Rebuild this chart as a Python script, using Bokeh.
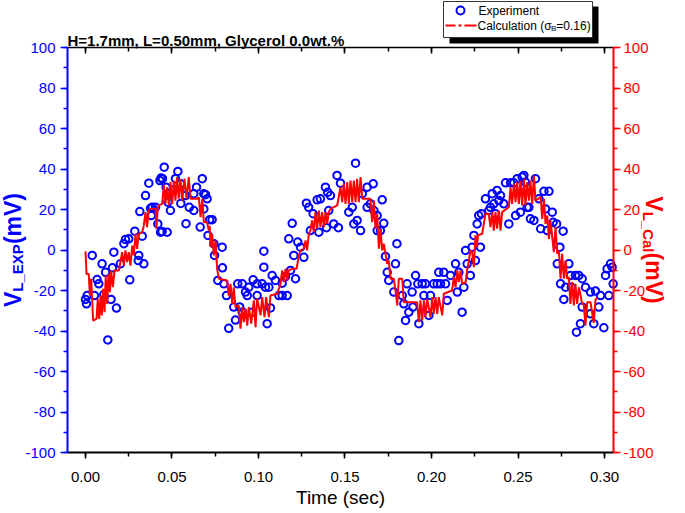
import math
from bokeh.plotting import figure
from bokeh.models import (Range1d, LinearAxis, SingleIntervalTicker, NumeralTickFormatter,
                          CustomJSTickFormatter, Label, BoxAnnotation, ColumnDataSource)
from bokeh.embed import file_html
from bokeh.resources import INLINE

FONT = "Liberation Sans"
BLUE = "#0000FF"
RED = "#FF0000"

title_text = "H=1.7mm, L=0.50mm, Glycerol 0.0wt.%"
x_label = "Time (sec)"
legend_exp = "Experiment"
legend_cal = ["Calculation (\u03c3", "B", "=0.16)"]
y_left_label = ["V", "L_EXP", "(mV)"]
y_right_label = ["V", "L_Cal", "(mV)"]

# Experiment (open circles)
exp_t = [0.0000, 0.0006, 0.0010, 0.0039, 0.0052, 0.0067, 0.0077, 0.0096, 0.0106, 0.0116,
         0.0129, 0.0148, 0.0156, 0.0164, 0.0179, 0.0202, 0.0222, 0.0231, 0.0250, 0.0256,
         0.0285, 0.0305, 0.0308, 0.0314, 0.0328, 0.0337, 0.0347, 0.0366, 0.0376, 0.0380,
         0.0386, 0.0405, 0.0418, 0.0430, 0.0434, 0.0437, 0.0443, 0.0445, 0.0455, 0.0466,
         0.0472, 0.0476, 0.0482, 0.0491, 0.0511, 0.0520, 0.0534, 0.0549, 0.0551, 0.0578,
         0.0581, 0.0600, 0.0626, 0.0626, 0.0642, 0.0663, 0.0675, 0.0684, 0.0684, 0.0694,
         0.0703, 0.0708, 0.0718, 0.0732, 0.0742, 0.0746, 0.0765, 0.0790, 0.0792, 0.0800,
         0.0815, 0.0828, 0.0857, 0.0867, 0.0880, 0.0892, 0.0906, 0.0906, 0.0925, 0.0935,
         0.0944, 0.0964, 0.0969, 0.0992, 0.0992, 0.1021, 0.1031, 0.1031, 0.1040, 0.1050,
         0.1060, 0.1069, 0.1079, 0.1098, 0.1118, 0.1137, 0.1137, 0.1156, 0.1166, 0.1175,
         0.1185, 0.1195, 0.1204, 0.1214, 0.1227, 0.1243, 0.1262, 0.1277, 0.1290, 0.1300,
         0.1316, 0.1339, 0.1349, 0.1358, 0.1387, 0.1393, 0.1400, 0.1406, 0.1416, 0.1435,
         0.1454, 0.1462, 0.1474, 0.1522, 0.1542, 0.1551, 0.1561, 0.1570, 0.1590, 0.1600,
         0.1628, 0.1628, 0.1647, 0.1663, 0.1667, 0.1686, 0.1686, 0.1705, 0.1715, 0.1724,
         0.1734, 0.1744, 0.1753, 0.1782, 0.1792, 0.1800, 0.1811, 0.1831, 0.1840, 0.1850,
         0.1859, 0.1869, 0.1888, 0.1893, 0.1908, 0.1921, 0.1927, 0.1946, 0.1956, 0.1965,
         0.1985, 0.1994, 0.2013, 0.2033, 0.2042, 0.2052, 0.2071, 0.2081, 0.2091, 0.2110,
         0.2139, 0.2149, 0.2158, 0.2177, 0.2187, 0.2197, 0.2206, 0.2225, 0.2235, 0.2245,
         0.2254, 0.2264, 0.2273, 0.2283, 0.2288, 0.2312, 0.2331, 0.2341, 0.2351, 0.2360,
         0.2370, 0.2379, 0.2389, 0.2399, 0.2418, 0.2428, 0.2447, 0.2457, 0.2476, 0.2486,
         0.2495, 0.2514, 0.2524, 0.2534, 0.2543, 0.2553, 0.2563, 0.2572, 0.2592, 0.2601,
         0.2621, 0.2631, 0.2650, 0.2659, 0.2669, 0.2679, 0.2698, 0.2703, 0.2723, 0.2727,
         0.2742, 0.2746, 0.2761, 0.2765, 0.2775, 0.2794, 0.2803, 0.2808, 0.2832, 0.2838,
         0.2852, 0.2861, 0.2871, 0.2871, 0.2890, 0.2919, 0.2919, 0.2938, 0.2948, 0.2967,
         0.2977, 0.2996, 0.3006, 0.3015, 0.3025, 0.3035, 0.3044, 0.3050]
exp_v = [-24.4, -26.6, -22.5, -2.7, -22.5, -14.6, -16.7, -6.8, -22.0, -11.0,
         -44.4, -24.4, -8.8, -1.1, -28.7, -6.8, 3.1, 5.2, 5.5, -14.7,
         9.3, -5.2, -2.7, 19.0, 6.8, -6.8, 26.9, 33.0, 20.6, 17.0,
         21.1, 21.1, 12.9, 34.3, 8.8, 35.5, 9.1, 35.2, 40.9, 31.0,
         8.8, 23.6, 27.8, 19.5, 29.7, 35.2, 38.8, 32.7, 23.0, 26.9,
         13.0, 21.1, 19.5, 27.8, 31.0, 11.3, 35.2, 20.3, 27.8, 27.3,
         25.3, 7.2, 15.0, 15.0, 3.1, -2.7, -15.0, 1.4, -8.8, -16.7,
         -22.5, -38.7, -28.2, -34.6, -16.7, -28.2, -16.7, -30.7, -20.8, -22.5,
         -18.4, -30.7, -14.7, -16.7, -22.5, -16.7, -0.6, -8.5, -18.4, -36.4,
         -18.4, -28.6, -12.6, -15.0, -22.5, -22.5, -16.4, -13.1, -22.5, 5.5,
         -10.1, 13.2, -2.7, -14.2, 3.9, 1.4, -3.6, 23.1, 21.1, 9.6,
         17.9, 24.8, 8.8, 25.3, 31.0, 11.0, 28.5, 19.5, 26.9, 12.9,
         36.8, 11.0, 33.0, 18.7, 21.1, 12.9, 42.9, 14.6, 9.6, 27.8,
         31.0, 21.1, 22.8, 32.7, 19.5, 17.0, 9.6, 9.6, 24.8, 13.2,
         -3.2, -11.0, -15.0, -20.8, -6.8, 3.1, -44.7, -22.5, -26.6, -34.8,
         -16.7, -30.7, -20.8, -28.2, -12.6, -16.7, -36.4, -16.7, -22.5, -16.7,
         -32.3, -22.5, -16.7, -16.7, -11.0, -16.7, -11.0, -16.7, -24.9, -12.6,
         -6.8, -20.8, -11.0, -30.7, -18.4, -0.2, -6.8, -12.6, 1.4, 7.2,
         -5.2, 12.9, 17.0, 1.4, 17.9, 25.3, 19.5, 21.1, 27.8, 22.8,
         17.9, 29.4, 24.4, 26.9, 22.8, 33.2, 12.9, 33.2, 33.2, 17.0,
         35.2, 18.7, 36.0, 36.8, 33.5, 21.1, 21.1, 15.4, 14.6, 35.2,
         25.3, 10.5, 29.0, 20.3, 9.6, 29.0, 18.7, 13.7, 12.9, -6.8,
         1.4, -16.7, 9.3, -24.4, -18.4, -6.8, -12.6, -18.4, -12.6, -40.6,
         -12.6, -36.4, -14.2, -28.2, -18.4, -20.8, -31.5, -36.4, -20.3, -28.2,
         -22.5, -38.4, -12.6, -9.3, -22.5, -6.8, -8.5, -16.7]

# Calculation (sigma_B = 0.16)
cal_t = [0.0000, 0.0006, 0.0019, 0.0025, 0.0033, 0.0044, 0.0064, 0.0071, 0.0079, 0.0087,
         0.0094, 0.0102, 0.0110, 0.0117, 0.0125, 0.0133, 0.0141, 0.0148, 0.0158, 0.0168,
         0.0193, 0.0212, 0.0222, 0.0231, 0.0241, 0.0250, 0.0260, 0.0270, 0.0279, 0.0289,
         0.0298, 0.0308, 0.0328, 0.0337, 0.0347, 0.0356, 0.0366, 0.0376, 0.0405, 0.0410,
         0.0418, 0.0424, 0.0443, 0.0453, 0.0462, 0.0472, 0.0482, 0.0491, 0.0501, 0.0511,
         0.0520, 0.0530, 0.0539, 0.0549, 0.0559, 0.0572, 0.0584, 0.0597, 0.0607, 0.0646,
         0.0655, 0.0665, 0.0675, 0.0684, 0.0703, 0.0713, 0.0718, 0.0723, 0.0732, 0.0742,
         0.0751, 0.0761, 0.0771, 0.0819, 0.0828, 0.0838, 0.0848, 0.0857, 0.0867, 0.0886,
         0.0896, 0.0906, 0.0915, 0.0925, 0.0935, 0.0944, 0.0958, 0.0973, 0.0983, 0.0992,
         0.1012, 0.1021, 0.1035, 0.1044, 0.1060, 0.1069, 0.1108, 0.1127, 0.1137, 0.1146,
         0.1156, 0.1166, 0.1175, 0.1195, 0.1220, 0.1233, 0.1243, 0.1262, 0.1272, 0.1281,
         0.1290, 0.1300, 0.1310, 0.1320, 0.1329, 0.1339, 0.1349, 0.1358, 0.1368, 0.1378,
         0.1387, 0.1397, 0.1406, 0.1416, 0.1455, 0.1474, 0.1484, 0.1493, 0.1503, 0.1513,
         0.1522, 0.1532, 0.1542, 0.1551, 0.1561, 0.1570, 0.1580, 0.1590, 0.1600, 0.1647,
         0.1657, 0.1667, 0.1676, 0.1686, 0.1696, 0.1705, 0.1715, 0.1724, 0.1744, 0.1753,
         0.1763, 0.1782, 0.1792, 0.1802, 0.1811, 0.1831, 0.1840, 0.1917, 0.1927, 0.1936,
         0.1946, 0.1956, 0.1965, 0.1975, 0.1994, 0.2004, 0.2013, 0.2023, 0.2033, 0.2042,
         0.2062, 0.2071, 0.2119, 0.2129, 0.2139, 0.2149, 0.2158, 0.2168, 0.2177, 0.2197,
         0.2206, 0.2216, 0.2225, 0.2235, 0.2245, 0.2254, 0.2264, 0.2268, 0.2293, 0.2312,
         0.2331, 0.2341, 0.2351, 0.2360, 0.2370, 0.2379, 0.2389, 0.2399, 0.2408, 0.2447,
         0.2457, 0.2466, 0.2476, 0.2486, 0.2495, 0.2505, 0.2514, 0.2524, 0.2534, 0.2543,
         0.2553, 0.2563, 0.2572, 0.2582, 0.2592, 0.2601, 0.2631, 0.2640, 0.2650, 0.2659,
         0.2669, 0.2679, 0.2688, 0.2707, 0.2717, 0.2727, 0.2736, 0.2746, 0.2755, 0.2765,
         0.2775, 0.2784, 0.2794, 0.2803, 0.2813, 0.2823, 0.2832, 0.2842, 0.2852, 0.2871,
         0.2880, 0.2890, 0.2900, 0.2919, 0.2938, 0.2948, 0.2958]
cal_v = [-0.7, -11.8, -11.8, -22.5, -14.2, -34.8, -34.0, -24.1, -34.0, -22.5,
         -32.3, -19.2, -30.7, -12.6, -26.6, -11.8, -20.8, -10.1, -18.4, -10.1,
         -10.1, -1.1, -7.7, -0.2, -6.0, -1.1, -7.7, 2.2, -2.7, 8.0,
         0.6, 8.0, 8.8, 12.1, 18.7, 11.3, 19.5, 20.3, 20.3, 10.5,
         21.1, 22.0, 22.8, 31.9, 22.8, 31.0, 22.0, 33.5, 22.8, 34.3,
         24.4, 36.0, 25.3, 35.2, 24.4, 35.2, 25.3, 36.0, 25.3, 25.3,
         26.1, 16.2, 25.3, 13.7, 13.7, 9.6, 12.0, 1.4, 8.0, -2.7,
         4.7, -9.3, -14.2, -15.0, -22.5, -16.7, -26.6, -18.4, -28.2, -27.4,
         -38.9, -28.2, -35.6, -29.0, -37.3, -28.2, -36.4, -24.9, -38.1, -24.1,
         -32.3, -23.3, -33.2, -23.3, -33.2, -22.5, -21.6, -16.7, -10.1, -15.9,
         -9.3, -15.0, -10.1, -9.3, -9.3, -2.7, -0.2, 0.6, 4.7, -0.2,
         7.2, 9.6, 14.6, 8.8, 18.7, 10.5, 19.5, 11.3, 18.7, 11.3,
         18.7, 12.9, 18.7, 20.3, 22.0, 31.0, 23.6, 32.7, 22.8, 33.5,
         22.8, 34.3, 23.6, 34.3, 23.6, 35.2, 23.6, 36.0, 25.3, 25.3,
         13.7, 24.4, 10.5, 17.9, 0.6, 10.5, -0.2, 3.1, -6.8, -5.2,
         -14.2, -14.2, -20.0, -27.4, -14.2, -14.2, -25.8, -25.8, -35.6, -24.9,
         -34.8, -24.9, -33.2, -24.1, -33.2, -23.3, -31.5, -23.3, -31.5, -23.3,
         -32.3, -21.6, -20.0, -13.4, -18.4, -10.1, -15.9, -10.1, -16.7, -16.0,
         -10.1, -5.2, -0.2, -1.1, -8.5, 7.2, 1.4, 7.2, 8.0, 17.9,
         17.9, 11.3, 18.7, 9.6, 18.7, 10.5, 19.5, 9.6, 18.7, 21.1,
         31.0, 22.8, 32.7, 23.6, 33.5, 22.8, 34.3, 22.0, 35.2, 22.0,
         33.5, 24.4, 34.3, 22.8, 36.8, 24.4, 26.1, 15.4, 25.3, 12.9,
         17.0, 5.5, 14.6, -1.1, 11.3, -1.9, -0.2, -14.2, -1.9, -14.2,
         -5.2, -14.2, -13.4, -26.6, -15.9, -27.4, -16.7, -26.6, -18.4, -26.6,
         -27.0, -37.3, -25.8, -25.8, -36.0, -24.5, -23.5]

exp_src = ColumnDataSource(data=dict(t=exp_t, v=exp_v))
cal_src = ColumnDataSource(data=dict(t=cal_t, v=cal_v))

# axis limits (data) and where the axes sit on the page (pixels)
X0, X1 = -0.0104, 0.3052
Y0, Y1 = -100.0, 100.0
FL, FR, FT, FB = 67, 613, 47, 452
W, H = 685, 513
kx = (X1 - X0) / (FR - FL)
ky = (Y1 - Y0) / (FB - FT)
x_range = Range1d(X0 - FL * kx, X1 + (W - FR) * kx)
y_range = Range1d(Y0 - (H - FB) * ky, Y1 + FT * ky)

# the plotting frame covers the whole canvas; axes are pinned at the axis limits
p = figure(width=W, height=H, output_backend="svg", toolbar_location=None,
           x_range=x_range, y_range=y_range, min_border=0)
p.xgrid.visible = False
p.ygrid.visible = False
p.outline_line_color = None
p.background_fill_color = "white"
p.border_fill_color = "white"

xt = SingleIntervalTicker(interval=0.05, num_minor_ticks=2)
yt = SingleIntervalTicker(interval=20, num_minor_ticks=2)


def style(ax, color, tick_out=6, minor_out=3, standoff=5, width=2):
    ax.axis_line_color = color
    ax.axis_line_width = width
    ax.major_tick_line_color = color
    ax.minor_tick_line_color = color
    ax.major_tick_line_width = 1.5
    ax.minor_tick_line_width = 1.5
    ax.major_tick_in = 0
    ax.major_tick_out = tick_out
    ax.minor_tick_in = 0
    ax.minor_tick_out = minor_out
    ax.major_label_text_color = color
    ax.major_label_text_font = FONT
    ax.major_label_text_font_size = "15px"
    ax.major_label_standoff = standoff


bx = p.xaxis[0]
bx.ticker = xt
bx.formatter = NumeralTickFormatter(format="0.00")
bx.bounds = (X0, X1)
bx.fixed_location = Y0
style(bx, "black", tick_out=6, minor_out=4, standoff=13)
bx.axis_label = x_label
bx.axis_label_text_font = FONT
bx.axis_label_text_font_size = "19px"
bx.axis_label_text_font_style = "normal"
bx.axis_label_text_color = "black"
bx.axis_label_standoff = 2

ly = p.yaxis[0]
ly.ticker = yt
ly.formatter = NumeralTickFormatter(format="0")
ly.bounds = (Y0, Y1)
ly.fixed_location = X0
style(ly, BLUE, tick_out=7, minor_out=4, standoff=5)

ry = LinearAxis(ticker=yt, formatter=NumeralTickFormatter(format="0"), bounds=(Y0, Y1),
                fixed_location=X1)
style(ry, RED, tick_out=7, minor_out=4, standoff=3)
p.add_layout(ry, "right")

tx = LinearAxis(ticker=xt, formatter=CustomJSTickFormatter(code="return ''"),
                bounds=(X0, X1), fixed_location=Y1)
tx.axis_line_color = "black"
tx.axis_line_width = 1.5
tx.major_tick_in = 6
tx.major_tick_out = 0
tx.minor_tick_in = 4
tx.minor_tick_out = 0
tx.major_tick_line_width = 1.5
tx.minor_tick_line_width = 1.5
tx.major_label_standoff = 0
tx.major_label_text_font_size = "1px"
p.add_layout(tx, "above")

p.scatter("t", "v", source=exp_src, marker="circle", size=7.5, fill_color=None,
          line_color=BLUE, line_width=2)
p.line("t", "v", source=cal_src, line_color=RED, line_width=2)


# helpers: page pixel -> screen units (frame == canvas, y upward)
def sx(px):
    return px


def sy(py):
    return H - py


def lab(px, py, text, size, color="black", bold=False, angle=0.0, baseline="alphabetic"):
    p.add_layout(Label(x=sx(px), y=sy(py), x_units="screen", y_units="screen", text=text,
                       angle=angle, text_font=FONT, text_font_size=f"{size}px",
                       text_font_style="bold" if bold else "normal", text_color=color,
                       text_baseline=baseline, text_align="left"))


def box(l, r, t, b, **kw):
    p.add_layout(BoxAnnotation(left=sx(l), right=sx(r), top=sy(t), bottom=sy(b),
                               left_units="screen", right_units="screen",
                               top_units="screen", bottom_units="screen", **kw))


# title
lab(67, 40, title_text, 15, bold=True)

# y axis titles with subscripts
F, S = 23, 15
WID = {"V": .667, "L": .611, "_": .556, "E": .667, "X": .667, "P": .667, "C": .722,
       "a": .556, "l": .278, "(": .333, "m": .889, ")": .333}


def bw(s, size):
    return sum(WID[c] for c in s) * size


cy = (FT + FB) / 2
tot = bw(y_left_label[0], F) + bw(y_left_label[1], S) + bw(y_left_label[2], F)
yy = cy + tot / 2
for txt, sz, sh in [(y_left_label[0], F, 0), (y_left_label[1], S, 5), (y_left_label[2], F, 0)]:
    lab(12 + sh, yy, txt, sz, color=BLUE, bold=True, angle=math.pi / 2)
    yy -= bw(txt, sz)

tot = bw(y_right_label[0], F) + bw(y_right_label[1], S) + bw(y_right_label[2], F)
yy = cy - tot / 2
for txt, sz, sh in [(y_right_label[0], F, 0), (y_right_label[1], S, -5), (y_right_label[2], F, 0)]:
    lab(653 + sh, yy, txt, sz, color=RED, bold=True, angle=-math.pi / 2)
    yy += bw(txt, sz)

# legend with drop shadow
box(449, 598, 6, 43, fill_color="black", fill_alpha=1, line_color=None)
box(443, 592, 1, 37, fill_color="white", fill_alpha=1, line_color="#333333", line_alpha=1,
    line_width=1)
box(456, 464, 6, 14, border_radius=4, fill_color=None, fill_alpha=0, line_color=BLUE,
    line_alpha=1, line_width=2)
for l, r in [(445, 455), (458, 461), (464, 476)]:
    box(l, r, 24, 26, fill_color=RED, fill_alpha=1, line_color=None)
lab(478, 10, legend_exp, 12, baseline="middle")
lx = 477
lab(lx, 25, legend_cal[0], 12, baseline="middle")
lx += 73.5
lab(lx, 28, legend_cal[1], 8, baseline="middle")
lx += 5.3
lab(lx, 25, legend_cal[2], 12, baseline="middle")

open("out.html", "w").write(file_html(p, INLINE))
